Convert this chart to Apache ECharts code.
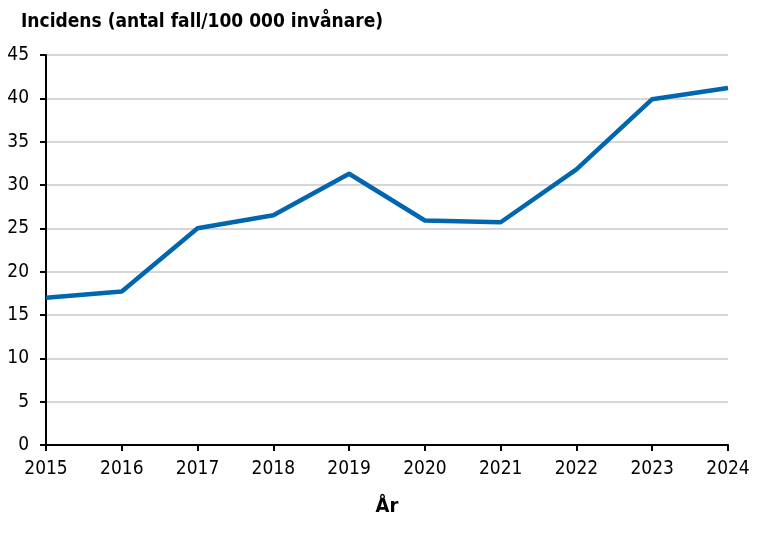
<!DOCTYPE html>
<html><head><meta charset="utf-8">
<script src="https://cdn.jsdelivr.net/npm/echarts@6/dist/echarts.min.js"></script>
<style>html,body{margin:0;padding:0;background:#fff}#c{width:763px;height:540px}</style>
</head><body><div id="c"></div>
<script>
const years = ['2015','2016','2017','2018','2019','2020','2021','2022','2023','2024'];
const incidens = [17.0, 17.7, 25.0, 26.5, 31.3, 25.9, 25.7, 31.8, 39.9, 41.2];
const yTicks = [0, 45, 5];
const FONT = '"DejaVu Sans Condensed", "DejaVu Sans", sans-serif';
const chart = echarts.init(document.getElementById('c'), null, {renderer:'canvas'});
chart.setOption({
  animation:false,
  backgroundColor:'#fff',
  title:{text:'Incidens (antal fall/100 000 invånare)', left:16, top:8,
    textStyle:{fontFamily:FONT, fontWeight:'bold', fontSize:19, color:'#000'}},
  grid:{left:46, right:35, top:55, bottom:95},
  xAxis:{type:'category', data:years, boundaryGap:false,
    name:'År', nameLocation:'middle', nameGap:52,
    nameTextStyle:{fontFamily:FONT, fontWeight:'bold', fontSize:20, color:'#000'},
    axisLine:{lineStyle:{color:'#000', width:2}},
    axisTick:{show:true, length:6, lineStyle:{color:'#000', width:2}},
    axisLabel:{fontFamily:FONT, fontSize:19, color:'#000', margin:15, interval:0},
    splitLine:{show:false}},
  yAxis:{type:'value', min:yTicks[0], max:yTicks[1], interval:yTicks[2],
    axisLine:{show:true, lineStyle:{color:'#000', width:2}},
    axisTick:{show:true, length:6, lineStyle:{color:'#000', width:2}},
    axisLabel:{fontFamily:FONT, fontSize:19, color:'#000', margin:17},
    splitLine:{show:true, lineStyle:{color:'#c8c8c8', width:1.5}}},
  series:[{type:'line', data:incidens, symbol:'none',
    lineStyle:{color:'#0066AE', width:4.5}, itemStyle:{color:'#0066AE'}}]
});
</script></body></html>
